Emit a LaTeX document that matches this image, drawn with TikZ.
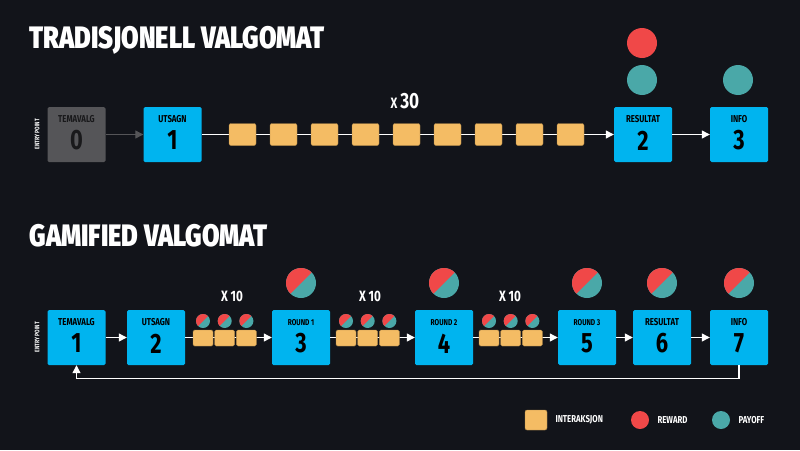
\documentclass[tikz,border=0pt]{standalone}
\usepackage{fontspec}
\setmainfont{Fira Sans}[FakeStretch=0.78]
\newfontfamily\hd{Fira Sans}[FakeStretch=0.82,UprightFont=* Black]
\usetikzlibrary{arrows.meta}
\definecolor{bg}{HTML}{12141A}
\definecolor{bl}{HTML}{00B4EF}
\definecolor{og}{HTML}{F4BC64}
\definecolor{rd}{HTML}{F04848}
\definecolor{tl}{HTML}{4AA8A8}
\definecolor{gr}{HTML}{555558}
\tikzset{
 big/.style={fill=bl,rounded corners=1.5pt,minimum width=58pt,minimum height=55pt,inner sep=0pt},
 sq/.style={fill=og,rounded corners=2pt,minimum width=27pt,minimum height=22pt,inner sep=0pt,draw=og!70!black,line width=0.4pt},
 ssq/.style={fill=og,rounded corners=1.5pt,minimum width=20pt,minimum height=16pt,inner sep=0pt,draw=og!70!black,line width=0.4pt},
 ln/.style={white,line width=1.2pt},
 ar/.style={ln,-{Triangle[length=8pt,width=8pt]}},
 lab/.style={font=\bfseries\fontsize{10}{11}\selectfont},
 slab/.style={font=\bfseries\fontsize{8.5}{10}\selectfont},
 num/.style={font=\bfseries\fontsize{28}{30}\selectfont},
 title/.style={font=\hd\fontsize{31}{33}\selectfont,white,anchor=west},
 ep/.style={font=\bfseries\fontsize{6.5}{7}\selectfont,white,rotate=90}
}
\newcommand{\boxlab}[3]{\node[lab,black] at ([yshift=15pt]#1.center){#2};\node[num,black] at ([yshift=-6pt]#1.center){#3};}
\newcommand{\splitc}[3]{% x y r
 \fill[tl] (#1,#2) circle (#3pt);
 \begin{scope}\clip (#1,#2) circle (#3pt);
 \fill[rd] ({#1-#3},{#2+#3}) -- ({#1+#3},{#2-#3}) -- ({#1-#3},{#2-#3}) -- cycle;\end{scope}}
\begin{document}
\begin{tikzpicture}[x=1pt,y=-1pt]
\fill[bg] (0,0) rectangle (800,450);
\useasboundingbox (0,0) rectangle (800,450);
\node[title] (t1) at (26,40) {TRADISJONELL VALGOMAT};
\node[title] (t2) at (26,236) {GAMIFIED VALGOMAT};
% top row
\node[ep] (ep1) at (37,134) {ENTRY POINT};
\node[big,fill=gr] (a0) at (76.5,134.5) {};
\node[lab,black!70!gr] at ([yshift=15pt]a0.center){TEMAVALG};
\node[num,black!70!gr] at ([yshift=-6pt]a0.center){0};
\node[big] (a1) at (172.5,134.5) {};\boxlab{a1}{UTSAGN}{1}
\node[big] (a2) at (643,134.5) {};\boxlab{a2}{RESULTAT}{2}
\node[big] (a3) at (739,134.5) {};\boxlab{a3}{INFO}{3}
\draw[gr,line width=1.2pt,-{Triangle[length=8pt,width=8pt]}] (a0) -- (a1);
\draw[ar] (a1) -- (a2);
\draw[ar] (a2) -- (a3);
\foreach \i in {0,...,8} \node[sq] at (242.5+\i*41,134.5) {};
\node[white,font=\bfseries\fontsize{22}{24}\selectfont] (x30) at (405,101) {{\fontsize{15}{16}\selectfont X }30};
\fill[rd] (642,43) circle (15pt);
\fill[tl] (642,80) circle (15pt);
\fill[tl] (738,80) circle (15pt);
% bottom row
\node[ep] (ep2) at (37,337) {ENTRY POINT};
\node[big] (b1) at (76.5,337.5) {};\boxlab{b1}{TEMAVALG}{1}
\node[big] (b2) at (156,337.5) {};\boxlab{b2}{UTSAGN}{2}
\node[big] (b3) at (301,337.5) {};\node[slab,black] at ([yshift=15pt]b3.center){ROUND 1};\node[num,black] at ([yshift=-6pt]b3.center){3};
\node[big] (b4) at (444,337.5) {};\node[slab,black] at ([yshift=15pt]b4.center){ROUND 2};\node[num,black] at ([yshift=-6pt]b4.center){4};
\node[big] (b5) at (587,337.5) {};\node[slab,black] at ([yshift=15pt]b5.center){ROUND 3};\node[num,black] at ([yshift=-6pt]b5.center){5};
\node[big] (b6) at (662,337.5) {};\boxlab{b6}{RESULTAT}{6}
\node[big] (b7) at (739,337.5) {};\boxlab{b7}{INFO}{7}
\draw[ar] (b1) -- (b2);
\draw[ar] (b2) -- (b3);
\draw[ar] (b3) -- (b4);
\draw[ar] (b4) -- (b5);
\draw[ar] (b5) -- (b6);
\draw[ar] (b6) -- (b7);
\draw[ar] (b7.south) -- ++(0,13) -| (b1.south);
\foreach \s/\c in {203/232,346/370,489/510}{
 \foreach \i in {0,1,2}{\node[ssq] at (\s+\i*21.7,338) {};\splitc{\s+\i*21.7}{321}{7}}
 \node[white,font=\bfseries\fontsize{15}{16}\selectfont] at (\c,296) {X 10};}
\foreach \x in {301,444,587,662,739} {\splitc{\x}{283}{15}}
% legend
\node[sq,minimum width=22pt,minimum height=20pt] (lg1) at (536,420) {};
\node[white,lab,anchor=west] (lt1) at (552,420) {INTERAKSJON};
\fill[rd] (640,420) circle (9pt);
\node[white,lab,anchor=west] (lt2) at (654,420) {REWARD};
\fill[tl] (721,420) circle (9pt);
\node[white,lab,anchor=west] (lt3) at (735,420) {PAYOFF};
\end{tikzpicture}
\end{document}
